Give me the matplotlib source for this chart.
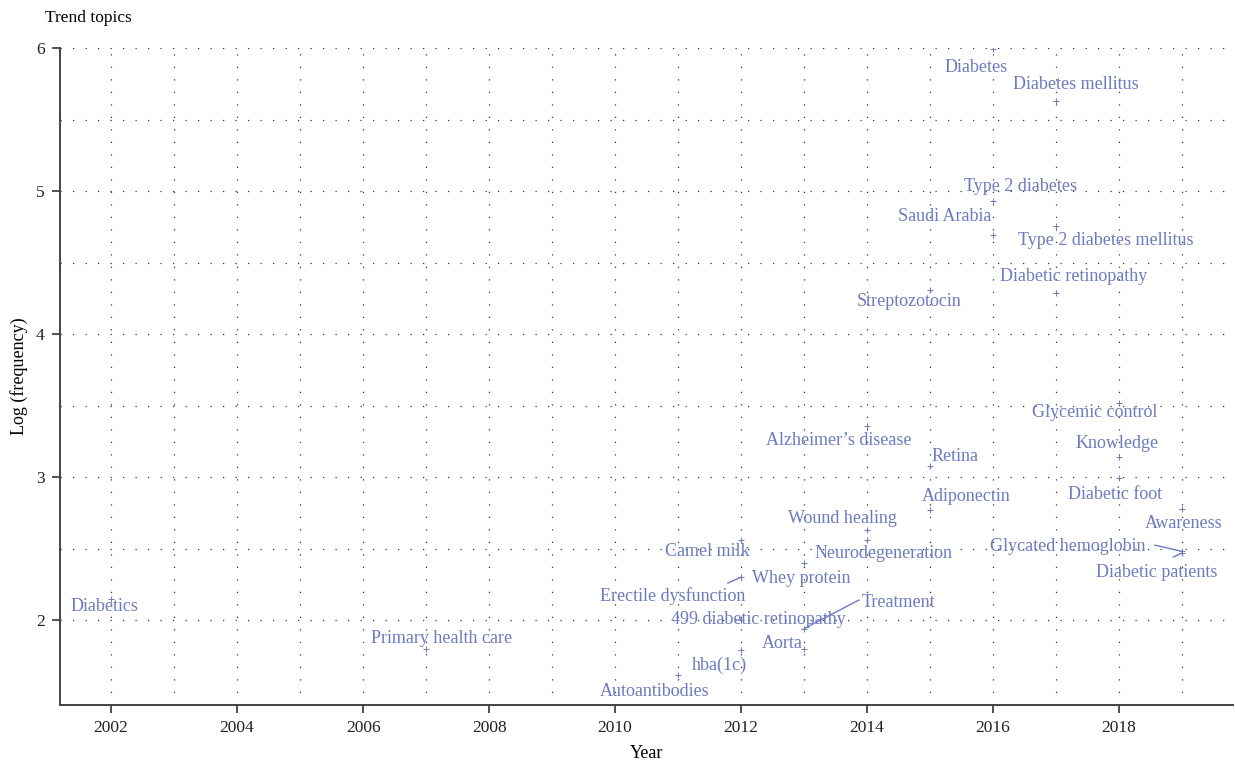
import matplotlib
matplotlib.use("Agg")
import matplotlib.pyplot as plt
from matplotlib.ticker import MultipleLocator, FixedLocator

# data
topics = ["Diabetes", "Diabetes mellitus", "Type 2 diabetes", "Saudi Arabia",
          "Type 2 diabetes mellitus", "Diabetic retinopathy", "Streptozotocin",
          "Glycemic control", "Knowledge", "Diabetic foot", "Awareness",
          "Glycated hemoglobin", "Diabetic patients", "Alzheimer\u2019s disease",
          "Retina", "Adiponectin", "Wound healing", "Neurodegeneration",
          "Camel milk", "Whey protein", "Erectile dysfunction",
          "499 diabetic retinopathy", "Treatment", "Aorta", "hba(1c)",
          "Autoantibodies", "Primary health care", "Diabetics"]
years = [2016, 2017, 2016, 2016, 2017, 2017, 2015, 2018, 2018, 2018, 2019,
         2019, 2019, 2014, 2015, 2015, 2014, 2014, 2012, 2013, 2012, 2012,
         2013, 2013, 2012, 2011, 2007, 2002]
log_freq = [5.99, 5.63, 4.93, 4.69, 4.755, 4.29, 4.31, 3.52, 3.14, 2.99, 2.78,
            2.48, 2.47, 3.36, 3.08, 2.77, 2.63, 2.56, 2.56, 2.40, 2.30, 2.00,
            1.94, 1.80, 1.79, 1.615, 1.80, 2.15]

# where the (repelled) labels sit
label_pos = {
    "Diabetes": (2015.73, 5.867), "Diabetes mellitus": (2017.32, 5.748),
    "Type 2 diabetes": (2016.43, 5.035), "Saudi Arabia": (2015.23, 4.825),
    "Type 2 diabetes mellitus": (2017.78, 4.657),
    "Diabetic retinopathy": (2017.27, 4.406), "Streptozotocin": (2014.66, 4.231),
    "Glycemic control": (2017.62, 3.455), "Knowledge": (2017.97, 3.238),
    "Diabetic foot": (2017.94, 2.881), "Awareness": (2019.03, 2.678),
    "Glycated hemoglobin": (2017.19, 2.517), "Diabetic patients": (2018.59, 2.336),
    "Alzheimer\u2019s disease": (2013.55, 3.259), "Retina": (2015.40, 3.147),
    "Adiponectin": (2015.58, 2.867), "Wound healing": (2013.61, 2.713),
    "Neurodegeneration": (2014.26, 2.469), "Camel milk": (2011.46, 2.483),
    "Whey protein": (2012.96, 2.294), "Erectile dysfunction": (2010.92, 2.168),
    "499 diabetic retinopathy": (2012.27, 2.007), "Treatment": (2014.50, 2.126),
    "Aorta": (2012.66, 1.839), "hba(1c)": (2011.65, 1.685),
    "Autoantibodies": (2010.62, 1.503), "Primary health care": (2007.24, 1.874),
    "Diabetics": (2001.89, 2.098),
}
segments = {
    "Erectile dysfunction": (2011.79, 2.259),
    "Treatment": (2013.87, 2.140),
    "Glycated hemoglobin": (2018.57, 2.524),
    "Diabetic patients": (2018.86, 2.441),
}

col = "#6b7bbf"
plt.rcParams["font.family"] = ["Liberation Serif", "DejaVu Serif"]

fig = plt.figure(figsize=(12.35, 7.63), dpi=100)
ax = fig.add_axes([0.0486, 0.076, 0.9494, 0.861])

ax.plot(years, log_freq, linestyle="none", marker="+", markersize=5,
        markeredgewidth=0.7, color=col)

for name, yr, lf in zip(topics, years, log_freq):
    tx, ty = label_pos[name]
    if name in segments:
        sx, sy = segments[name]
        ax.plot([sx, yr], [sy, lf], color=col, lw=1.0)
    ax.text(tx, ty, name, color=col, fontsize=13, ha="center", va="center")

ax.set_xlim(2001.19, 2019.8)
ax.set_ylim(1.406, 6.0)
ax.xaxis.set_major_locator(MultipleLocator(2))
ax.xaxis.set_minor_locator(MultipleLocator(1))
ax.yaxis.set_major_locator(MultipleLocator(1))
ax.yaxis.set_minor_locator(FixedLocator([2.5, 3.5, 4.5, 5.5]))
ax.grid(True, which="both", color="#333333", linestyle=(0, (1, 9)), linewidth=0.9)
ax.tick_params(which="minor", length=0)
ax.tick_params(which="major", length=6, width=1.2, color="#333333",
               labelsize=12.5, labelcolor="#222222", pad=5)

for s in ["top", "right"]:
    ax.spines[s].set_visible(False)
for s in ["left", "bottom"]:
    ax.spines[s].set_linewidth(1.4)
    ax.spines[s].set_color("#444444")

ax.set_xlabel("Year", fontsize=13, labelpad=6)
ax.set_ylabel("Log (frequency)", fontsize=13, labelpad=6)
fig.text(0.0365, 0.977, "Trend topics", fontsize=12.5, ha="left", va="center")

fig.savefig("out.png", dpi=100)
